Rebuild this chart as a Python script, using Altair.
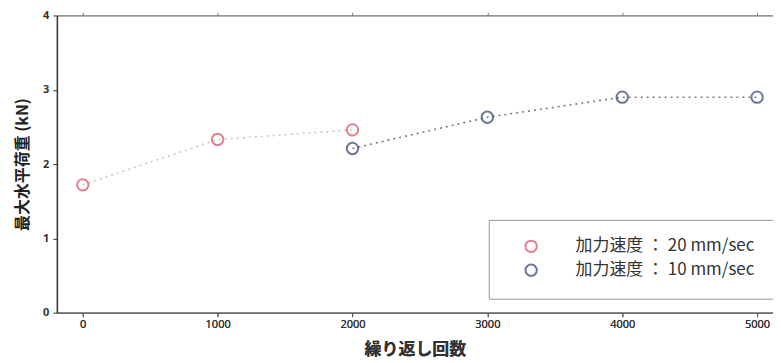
import altair as alt
import pandas as pd

series_names = ["加力速度 ： 20 mm/sec", "加力速度 ： 10 mm/sec"]
x_20 = [0, 1000, 2000]
y_20 = [1.72, 2.33, 2.46]
x_10 = [2000, 3000, 4000, 5000]
y_10 = [2.21, 2.63, 2.90, 2.90]
x_ticks = [0, 1000, 2000, 3000, 4000, 5000]
y_ticks = [0, 1, 2, 3, 4]

rows = []
for xv, yv in zip(x_20, y_20):
    rows.append({"cycles": xv, "load": yv, "series": series_names[0]})
for xv, yv in zip(x_10, y_10):
    rows.append({"cycles": xv, "load": yv, "series": series_names[1]})
df = pd.DataFrame(rows)

FONT = "Noto Sans CJK JP"
xscale = alt.Scale(domain=[-192, 5118], nice=False, zero=False)
yscale = alt.Scale(domain=[0, 4], nice=False)

xaxis = alt.Axis(values=x_ticks, format="d", title="繰り返し回数", grid=False, orient="bottom",
                 tickSize=4, tickColor="#555", domainColor="#666", domainWidth=1.2,
                 labelFont="Noto Sans", labelFontSize=11, labelColor="#333",
                 labelPadding=2, titleFont=FONT, titleFontSize=17, titleFontWeight="bold",
                 titleColor="#333", titlePadding=12, offset=0)
yaxis = alt.Axis(values=y_ticks, title="最大水平荷重 (kN)", grid=False, tickSize=4,
                 tickColor="#333", domainColor="#333", domainWidth=1.5,
                 labelFont="Noto Sans", labelFontSize=11, labelFontWeight="bold",
                 labelColor="#333", labelPadding=4, titleFont=FONT, titleFontSize=16,
                 titleFontWeight="bold", titleColor="#222", titlePadding=12)

lines = alt.Chart(df).mark_line(strokeDash=[2, 4], strokeWidth=1.6).encode(
    x=alt.X("cycles:Q", scale=xscale, axis=xaxis),
    y=alt.Y("load:Q", scale=yscale, axis=yaxis),
    detail="series:N",
    stroke=alt.Stroke("series:N", scale=alt.Scale(domain=series_names, range=["#c8c8c8", "#7a7a7a"]), legend=None),
)

points = alt.Chart(df).mark_point(filled=False, size=130, strokeWidth=2, shape="circle").encode(
    x=alt.X("cycles:Q", scale=xscale, axis=xaxis),
    y=alt.Y("load:Q", scale=yscale, axis=yaxis),
    color=alt.Color("series:N", scale=alt.Scale(domain=series_names, range=["#d9475e", "#2e3f6e"]),
                    legend=alt.Legend(title=None, orient="none", legendX=433, legendY=205,
                                      direction="vertical", padding=18, strokeColor="#999",
                                      fillColor="white", labelFont=FONT, labelFontSize=17,
                                      labelColor="#333", symbolType="circle", symbolSize=130,
                                      symbolStrokeWidth=2, symbolFillColor="transparent",
                                      labelOffset=36, rowPadding=3, labelLimit=300,
                                      symbolOffset=16)),
)

top = alt.Chart(df).mark_point(opacity=0).encode(
    x=alt.X("cycles:Q", scale=xscale,
            axis=alt.Axis(values=x_ticks, orient="top", labels=False, title=None, grid=False,
                          tickSize=3, tickColor="#777", domainColor="#777", domainWidth=1.2)),
    y=alt.Y("load:Q", scale=yscale, axis=yaxis),
)

chart = alt.layer(lines, points, top).resolve_scale(
    color="independent"
).resolve_axis(x="independent").properties(
    width=718, height=298,
    autosize=alt.AutoSizeParams(type="none"),
    padding={"left": 49, "top": 7, "right": 0, "bottom": 46},
).configure_view(stroke=None).configure(background="white")

chart.save("out.html", embed_options={"renderer": "svg", "actions": False})
